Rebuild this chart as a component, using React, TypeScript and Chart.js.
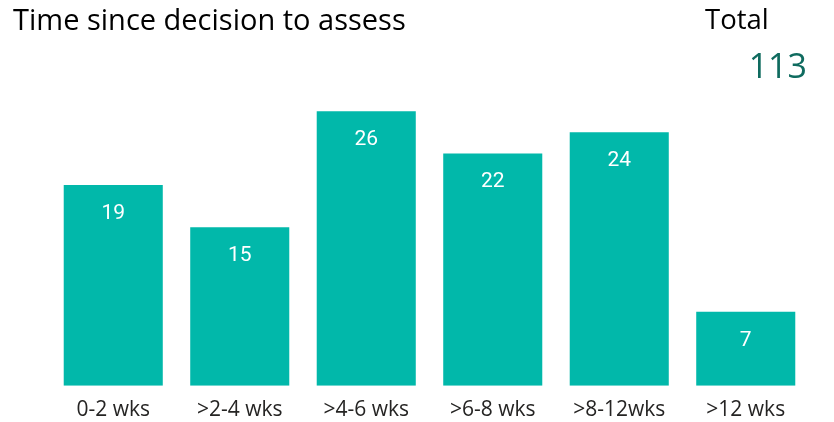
import React, { useEffect, useRef } from "react";
import { Chart, registerables } from "chart.js";

Chart.register(...registerables);

const categories = ["0-2 wks", ">2-4 wks", ">4-6 wks", ">6-8 wks", ">8-12wks", ">12 wks"];
const counts = [19, 15, 26, 22, 24, 7];
const totalLabel = "Total";
const totalValue = "113";
const title = "Time since decision to assess";

const valueLabels = {
  id: "valueLabels",
  afterDatasetsDraw(chart: any) {
    const ctx = chart.ctx;
    const meta = chart.getDatasetMeta(0);
    ctx.save();
    ctx.fillStyle = "#ffffff";
    ctx.font = "21px Roboto";
    ctx.textAlign = "center";
    ctx.textBaseline = "middle";
    meta.data.forEach((bar: any, i: number) => {
      ctx.fillText(String(chart.data.datasets[0].data[i]), bar.x, bar.y + 28.5);
    });
    ctx.restore();
  },
};

export default function App() {
  const ref = useRef<HTMLCanvasElement>(null);
  useEffect(() => {
    document.body.style.margin = "0";
    const chart = new Chart(ref.current!, {
      type: "bar",
      data: {
        labels: categories,
        datasets: [
          {
            data: counts,
            backgroundColor: "#01B8AA",
            categoryPercentage: 1,
            barPercentage: 0.783,
          },
        ],
      },
      options: {
        animation: false,
        responsive: false,
        layout: { padding: { left: 50, right: 25, top: 90, bottom: 1 } },
        plugins: { legend: { display: false }, tooltip: { enabled: false } },
        scales: {
          x: {
            grid: { display: false, drawTicks: false },
            border: { display: false },
            ticks: { color: "#252423", font: { family: "Open Sans", size: 21 }, padding: 12 },
          },
          y: { display: false, min: 0, max: 28 },
        },
      },
      plugins: [valueLabels],
    });
    return () => chart.destroy();
  }, []);
  return (
    <div style={{ position: "fixed", left: 0, top: 0, width: 834, height: 422, background: "#fff", overflow: "hidden" }}>
      <canvas ref={ref} width={834} height={436} style={{ position: "absolute", left: 0, top: 0 }} />
      <div style={{ position: "absolute", left: 13, top: -1, fontFamily: "Open Sans", fontSize: 29, color: "#000", whiteSpace: "nowrap" }}>
        {title}
      </div>
      <div style={{ position: "absolute", left: 705, top: 0, fontFamily: "Open Sans", fontSize: 27.5, color: "#000" }}>
        {totalLabel}
      </div>
      <div style={{ position: "absolute", right: 27, top: 42, fontFamily: "Open Sans", fontSize: 34, color: "#0F6B5F" }}>
        {totalValue}
      </div>
    </div>
  );
}
